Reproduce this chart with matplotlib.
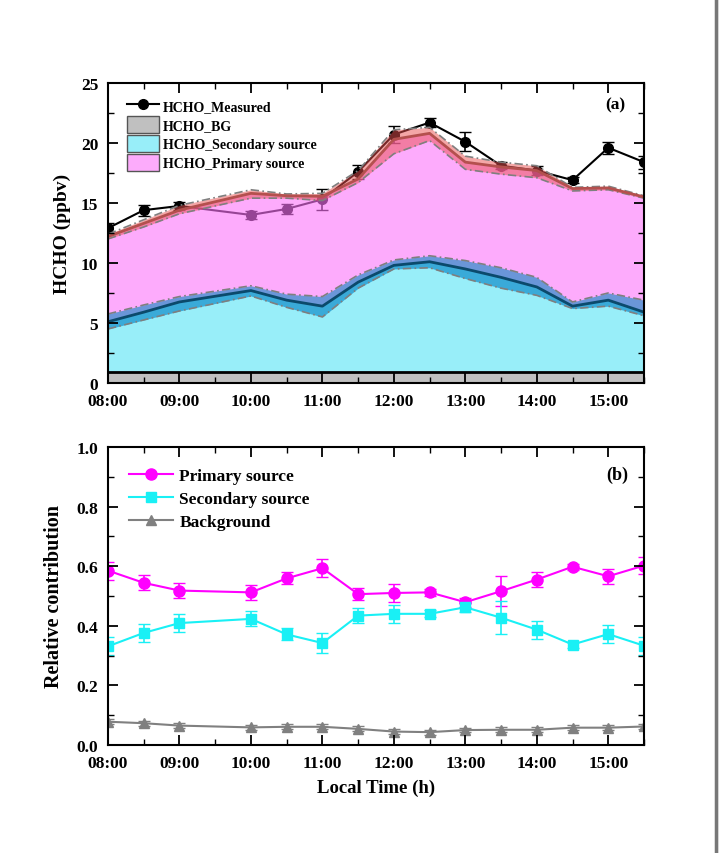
import matplotlib
matplotlib.use('Agg')
import matplotlib.pyplot as plt
import numpy as np
from matplotlib.lines import Line2D
from matplotlib.patches import Patch, Rectangle
from matplotlib.ticker import MultipleLocator, FixedLocator, FixedFormatter

plt.rcParams['font.family'] = ['Liberation Serif', 'DejaVu Serif']
plt.rcParams['font.weight'] = 'bold'
plt.rcParams['axes.labelweight'] = 'bold'

# time of day in hours (no 09:30 sample)
hours = [8.0, 8.5, 9.0, 10.0, 10.5, 11.0, 11.5, 12.0, 12.5, 13.0, 13.5, 14.0, 14.5, 15.0, 15.5]
tick_hours = [8, 9, 10, 11, 12, 13, 14, 15]
tick_labels = ['08:00', '09:00', '10:00', '11:00', '12:00', '13:00', '14:00', '15:00']

# panel (a): HCHO in ppbv
measured = [12.9, 14.4, 14.75, 14.0, 14.5, 15.3, 17.6, 20.7, 21.7, 20.1, 18.1, 17.7, 16.9, 19.6, 18.4]
measured_err = [0.4, 0.45, 0.3, 0.3, 0.4, 0.9, 0.6, 0.7, 0.35, 0.8, 0.3, 0.4, 0.25, 0.5, 0.55]
bg = [0.94, 0.94, 0.94, 0.94, 0.94, 0.94, 0.94, 0.94, 0.94, 0.94, 0.94, 0.94, 0.94, 0.94, 0.94]
# stacked levels (BG + secondary) and (BG + secondary + primary), with uncertainty bounds
sec_top = [5.1, 5.9, 6.75, 7.7, 6.9, 6.4, 8.4, 9.8, 10.1, 9.5, 8.8, 8.0, 6.4, 6.9, 5.9]
sec_lo = [4.5, 5.25, 6.0, 7.25, 6.3, 5.5, 7.9, 9.5, 9.6, 8.7, 7.9, 7.3, 6.2, 6.4, 5.6]
sec_hi = [5.75, 6.5, 7.2, 8.1, 7.4, 7.2, 9.0, 10.25, 10.6, 10.2, 9.6, 8.8, 6.75, 7.5, 6.9]
tot_top = [12.2, 13.3, 14.4, 15.8, 15.6, 15.55, 17.0, 20.3, 20.8, 18.4, 18.0, 17.7, 16.2, 16.25, 15.5]
tot_lo = [12.0, 13.0, 14.1, 15.4, 15.4, 15.2, 16.7, 19.1, 20.2, 17.8, 17.4, 17.1, 16.0, 16.1, 15.4]
tot_hi = [12.4, 13.6, 14.8, 16.1, 15.75, 15.8, 17.7, 21.1, 21.3, 18.9, 18.4, 18.1, 16.3, 16.4, 15.6]

# panel (b): relative contributions
primary_frac = [0.585, 0.544, 0.518, 0.512, 0.559, 0.593, 0.506, 0.510, 0.512, 0.479, 0.516, 0.555, 0.598, 0.566, 0.602]
primary_err = [0.03, 0.025, 0.025, 0.025, 0.02, 0.03, 0.02, 0.03, 0.012, 0.015, 0.05, 0.025, 0.01, 0.025, 0.03]
secondary_frac = [0.331, 0.376, 0.409, 0.423, 0.371, 0.342, 0.434, 0.44, 0.44, 0.462, 0.427, 0.387, 0.337, 0.372, 0.333]
secondary_err = [0.03, 0.03, 0.03, 0.025, 0.02, 0.035, 0.025, 0.03, 0.012, 0.015, 0.055, 0.03, 0.01, 0.03, 0.03]
bg_frac = [0.078, 0.073, 0.065, 0.059, 0.061, 0.061, 0.054, 0.045, 0.043, 0.050, 0.051, 0.051, 0.058, 0.058, 0.062]
bg_err = [0.008, 0.008, 0.008, 0.008, 0.008, 0.008, 0.008, 0.008, 0.008, 0.008, 0.008, 0.008, 0.008, 0.008, 0.008]

fig = plt.figure(figsize=(7.19, 8.54), dpi=100)
ax1 = fig.add_axes([0.1502, 0.5504, 0.7455, 0.3513])
ax2 = fig.add_axes([0.1502, 0.1265, 0.7455, 0.349])

# page edge on the right
fig.add_artist(Rectangle((715 / 719, 0), 4 / 719, 1, transform=fig.transFigure, color='#f2f2f2', zorder=0))
fig.add_artist(Line2D([715.5 / 719, 715.5 / 719], [0, 1], transform=fig.transFigure, color='#777777', lw=2.5))

x = np.array(hours)

# --- panel (a) ---
ax1.errorbar(x, measured, yerr=measured_err, color='black', marker='o', ms=7, lw=1.5,
             capsize=4, elinewidth=1.2, zorder=2)
ax1.fill_between(x, 0, bg, color='#c0c0c0', zorder=3)
ax1.plot(x, bg, color='black', lw=2, zorder=6)
ax1.fill_between(x, bg, sec_top, color='#98eef9', zorder=3)
ax1.fill_between(x, sec_top, tot_top, color=(252 / 255, 115 / 255, 250 / 255), alpha=0.6, lw=0, zorder=3)
ax1.fill_between(x, sec_lo, sec_top, color='#3aaad8', lw=0, zorder=4)
ax1.fill_between(x, sec_top, sec_hi, color='#6a96d8', lw=0, zorder=4)
ax1.fill_between(x, tot_lo, tot_hi, color=(235 / 255, 80 / 255, 80 / 255), alpha=0.5, lw=0, zorder=4)
for band in (sec_lo, sec_hi, tot_lo, tot_hi):
    ax1.plot(x, band, color='#7f7f7f', lw=1.2, ls=(0, (5, 2, 1, 2)), zorder=5)
ax1.plot(x, sec_top, color='#0b4a6c', lw=2, zorder=5)
ax1.plot(x, tot_top, color='#b4504e', lw=2, zorder=5)

ax1.set_ylim(0, 25)
ax1.set_ylabel('HCHO (ppbv)', fontsize=14, labelpad=7)
ax1.yaxis.set_major_locator(MultipleLocator(5))
ax1.yaxis.set_minor_locator(MultipleLocator(2.5))
ax1.text(0.965, 0.93, '(a)', transform=ax1.transAxes, ha='right', va='center', fontsize=12.5)

h1 = [Line2D([], [], color='black', marker='o', ms=7, lw=1.5),
      Patch(facecolor='#c0c0c0', edgecolor='#555555'),
      Patch(facecolor='#98eef9', edgecolor='#555555'),
      Patch(facecolor='#fcabfb', edgecolor='#555555')]
l1 = ['HCHO_Measured', 'HCHO_BG', 'HCHO_Secondary source', 'HCHO_Primary source']
ax1.legend(h1, l1, loc='upper left', bbox_to_anchor=(0.02, 0.98), frameon=False, fontsize=10,
           handlelength=2.3, handleheight=1.5, labelspacing=0.15, handletextpad=0.3,
           borderaxespad=0.2)

# --- panel (b) ---
ax2.errorbar(x, primary_frac, yerr=primary_err, color='#ff00ff', marker='o', ms=8, lw=1.5,
             capsize=4, elinewidth=1.2)
ax2.errorbar(x, secondary_frac, yerr=secondary_err, color='#19f0f5', marker='s', ms=7.5, lw=1.5,
             capsize=4, elinewidth=1.2)
ax2.errorbar(x, bg_frac, yerr=bg_err, color='#808080', marker='^', ms=7.5, lw=1.5,
             capsize=4, elinewidth=1.2)
ax2.set_ylim(0, 1.0)
ax2.set_ylabel('Relative contribution', fontsize=14.5, labelpad=9)
ax2.set_xlabel('Local Time (h)', fontsize=13.5, labelpad=6)
ax2.yaxis.set_major_locator(MultipleLocator(0.2))
ax2.yaxis.set_minor_locator(MultipleLocator(0.1))
ax2.yaxis.set_major_formatter(plt.FuncFormatter(lambda v, p: f'{v:.1f}'))
ax2.text(0.97, 0.907, '(b)', transform=ax2.transAxes, ha='right', va='center', fontsize=13)
h2 = [Line2D([], [], color='#ff00ff', marker='o', ms=8, lw=1.5),
      Line2D([], [], color='#19f0f5', marker='s', ms=7.5, lw=1.5),
      Line2D([], [], color='#808080', marker='^', ms=7.5, lw=1.5)]
l2 = ['Primary source', 'Secondary source', 'Background']
ax2.legend(h2, l2, loc='upper left', bbox_to_anchor=(0.02, 0.965), frameon=False, fontsize=12.5,
           handlelength=2.5, labelspacing=0.4, handletextpad=0.4, borderaxespad=0.2)

for ax in (ax1, ax2):
    ax.set_xlim(8, 15.5)
    ax.xaxis.set_major_locator(FixedLocator(tick_hours))
    ax.xaxis.set_major_formatter(FixedFormatter(tick_labels))
    ax.xaxis.set_minor_locator(MultipleLocator(0.5))
    ax.tick_params(which='both', direction='in', top=True, right=True, labelsize=12.5)
    ax.tick_params(which='major', length=7, width=1.3, pad=7)
    ax.tick_params(which='minor', length=4, width=1.0)
    ax.xaxis.set_zorder(10)
    ax.yaxis.set_zorder(10)
    for s in ax.spines.values():
        s.set_linewidth(1.5)
        s.set_zorder(10)

fig.savefig('out.png', dpi=100)
